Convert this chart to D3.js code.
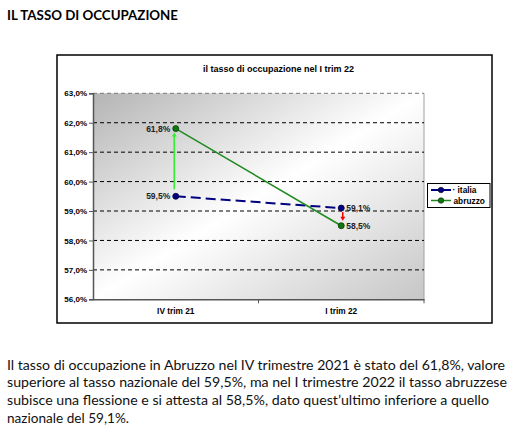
<!DOCTYPE html>
<html><head><meta charset="utf-8">
<script src="https://cdn.jsdelivr.net/npm/d3@7/dist/d3.min.js"></script>
<style>html,body{margin:0;padding:0;background:#fff;}svg{display:block;}</style>
</head><body>
<script>
const categories = ["IV trim 21", "I trim 22"];
const italia = [59.5, 59.1];
const abruzzo = [61.8, 58.5];
const yTicks = [56, 57, 58, 59, 60, 61, 62, 63];
const seriesNames = ["italia", "abruzzo"];
const pageTitle = "IL TASSO DI OCCUPAZIONE";
const chartTitle = "il tasso di occupazione nel I trim 22";
const bodyLines = [
  "Il tasso di occupazione in Abruzzo nel IV trimestre 2021 è stato del 61,8%, valore",
  "superiore al tasso nazionale del 59,5%, ma nel I trimestre 2022 il tasso abruzzese",
  "subisce una flessione e si attesta al 58,5%, dato quest’ultimo inferiore a quello",
  "nazionale del 59,1%."
];
const bodyWidths = [498, 500, 482, 122];

const W = 517, H = 447;
const svg = d3.select("body").append("svg").attr("width", W).attr("height", H);
const fmt = v => v.toFixed(1).replace(".", ",") + "%";
const AR = "'Liberation Sans', Arial, sans-serif";
const BODY = "Lato, 'Open Sans', sans-serif";

// page title
svg.append("text").attr("x", 7).attr("y", 19.5)
  .attr("font-family", BODY).attr("font-weight", "bold")
  .attr("font-size", 13.5).attr("textLength", 171).attr("lengthAdjust", "spacingAndGlyphs")
  .text(pageTitle);

// chart box
svg.append("rect").attr("x", 57).attr("y", 55).attr("width", 435).attr("height", 268)
  .attr("fill", "#fff").attr("stroke", "#000").attr("stroke-width", 1.5);

svg.append("text").attr("x", 278.5).attr("y", 72).attr("text-anchor", "middle")
  .attr("font-family", AR).attr("font-weight", "bold").attr("font-size", 8.4)
  .attr("textLength", 151).attr("lengthAdjust", "spacingAndGlyphs")
  .text(chartTitle);

const L = 93, R = 424, T = 93.3, B = 299.3;
const x = d3.scaleBand().domain(categories).range([L, R]);
const cx = c => x(c) + x.bandwidth() / 2;
const y = d3.scaleLinear().domain([56, 63]).range([B, T]);

const defs = svg.append("defs");
const g = defs.append("linearGradient").attr("id", "bg").attr("x1", 0).attr("y1", 0).attr("x2", 1).attr("y2", 1);
g.append("stop").attr("offset", 0).attr("stop-color", "#b4b4b4");
g.append("stop").attr("offset", 0.5).attr("stop-color", "#ffffff");
g.append("stop").attr("offset", 1).attr("stop-color", "#c6c6c6");

svg.append("rect").attr("x", L).attr("y", T).attr("width", R - L).attr("height", B - T).attr("fill", "url(#bg)");
svg.append("line").attr("x1", R).attr("x2", R).attr("y1", T).attr("y2", B).attr("stroke", "#a0a0a0").attr("stroke-width", 1);

// gridlines
svg.append("g").selectAll("line").data(yTicks.filter(d => d > 56)).join("line")
  .attr("x1", L).attr("x2", R).attr("y1", d => y(d)).attr("y2", d => y(d))
  .attr("stroke", d => d === 63 ? "#777" : "#000").attr("stroke-width", 1).attr("stroke-dasharray", "4,3");

// y axis
const ya = svg.append("g").attr("transform", `translate(${L},0)`)
  .call(d3.axisLeft(y).tickValues(yTicks).tickFormat(fmt).tickSize(4).tickPadding(2));
ya.select(".domain").attr("stroke", "#555").attr("stroke-width", 1.5);
ya.selectAll(".tick line").attr("stroke", "#555");
ya.selectAll("text").attr("font-family", AR).attr("font-weight", "bold").attr("font-size", 8).attr("fill", "#000");

// x axis
const xa = svg.append("g").attr("transform", `translate(0,${B})`)
  .call(d3.axisBottom(x).tickSize(0).tickPadding(9));
xa.select(".domain").attr("stroke", "#555").attr("stroke-width", 1.5);
xa.selectAll("text").attr("font-family", AR).attr("font-weight", "bold").attr("font-size", 8.3).attr("fill", "#000");
const seps = categories.slice(1).map(d => x(d)).concat([x.range()[1]]);
xa.selectAll(".sep").data(seps).join("line").attr("class", "sep")
  .attr("x1", d => d).attr("x2", d => d).attr("y1", 0).attr("y2", 4).attr("stroke", "#555");

// arrows
function arrow(xp, y1, y2, color) {
  const dir = y2 < y1 ? -1 : 1;
  svg.append("line").attr("x1", xp).attr("x2", xp).attr("y1", y1).attr("y2", y2 - dir * 3)
    .attr("stroke", color).attr("stroke-width", 1.6);
  svg.append("path").attr("d", `M${xp - 2.5},${y2 - dir * 4}L${xp + 2.5},${y2 - dir * 4}L${xp},${y2}Z`).attr("fill", color);
}
arrow(cx(categories[0]) - 1.5, y(italia[0]) - 7, y(abruzzo[0]) + 4, "#33ee33");
arrow(cx(categories[1]) + 1.5, y(italia[1]) + 4, y(abruzzo[1]) - 5, "#ff0000");

// lines
const line = d3.line().x((d, i) => cx(categories[i])).y(d => y(d));
svg.append("path").datum(italia).attr("d", line).attr("fill", "none")
  .attr("stroke", "#000080").attr("stroke-width", 2).attr("stroke-dasharray", "10,5");
svg.append("path").datum(abruzzo).attr("d", line).attr("fill", "none")
  .attr("stroke", "#1f8a1f").attr("stroke-width", 1.5);

// markers
svg.append("g").selectAll("circle").data(italia).join("circle")
  .attr("cx", (d, i) => cx(categories[i])).attr("cy", d => y(d)).attr("r", 3)
  .attr("fill", "#000080").attr("stroke", "#000040").attr("stroke-width", 0.8);
svg.append("g").selectAll("circle").data(abruzzo).join("circle")
  .attr("cx", (d, i) => cx(categories[i])).attr("cy", d => y(d)).attr("r", 3)
  .attr("fill", "#0e7a0e").attr("stroke", "#043a04").attr("stroke-width", 0.8);

// value labels
const lab = (xp, v, anchor) => svg.append("text").attr("x", xp).attr("y", y(v) + 3)
  .attr("text-anchor", anchor).attr("font-family", AR).attr("font-weight", "bold")
  .attr("font-size", 8.5).attr("fill", "#222").text(fmt(v));
lab(cx(categories[0]) - 5.5, abruzzo[0], "end");
lab(cx(categories[0]) - 5.5, italia[0], "end");
lab(cx(categories[1]) + 5, italia[1], "start");
lab(cx(categories[1]) + 5, abruzzo[1], "start");

// legend
const lg = svg.append("g");
lg.append("rect").attr("x", 427.5).attr("y", 183.5).attr("width", 62.5).attr("height", 24)
  .attr("fill", "#fff").attr("stroke", "#000").attr("stroke-width", 1);
const lgColors = [["#000080", "#000080"], ["#1f8a1f", "#0e7a0e"]];
seriesNames.forEach((n, i) => {
  const yy = 190 + i * 10.5;
  lg.append("line").attr("x1", 431).attr("x2", 451).attr("y1", yy).attr("y2", yy)
    .attr("stroke", lgColors[i][0]).attr("stroke-width", i === 0 ? 2 : 1.5);
  lg.append("circle").attr("cx", 441).attr("cy", yy).attr("r", 2.8).attr("fill", lgColors[i][1]).attr("stroke", "#000").attr("stroke-width", 0.5);
  lg.append("text").attr("x", i === 0 ? 452.5 : 453.5).attr("y", yy + 3).attr("font-family", AR)
    .attr("font-weight", "bold").attr("font-size", 8.3).text(i === 0 ? "· " + n : n);
});

// body text
svg.append("g").selectAll("text").data(bodyLines).join("text")
  .attr("x", 7).attr("y", (d, i) => 369.5 + i * 17.7)
  .attr("font-family", BODY).attr("font-size", 14).attr("fill", "#111")
  .attr("textLength", (d, i) => bodyWidths[i]).attr("lengthAdjust", "spacingAndGlyphs")
  .text(d => d);
</script>
</body></html>
